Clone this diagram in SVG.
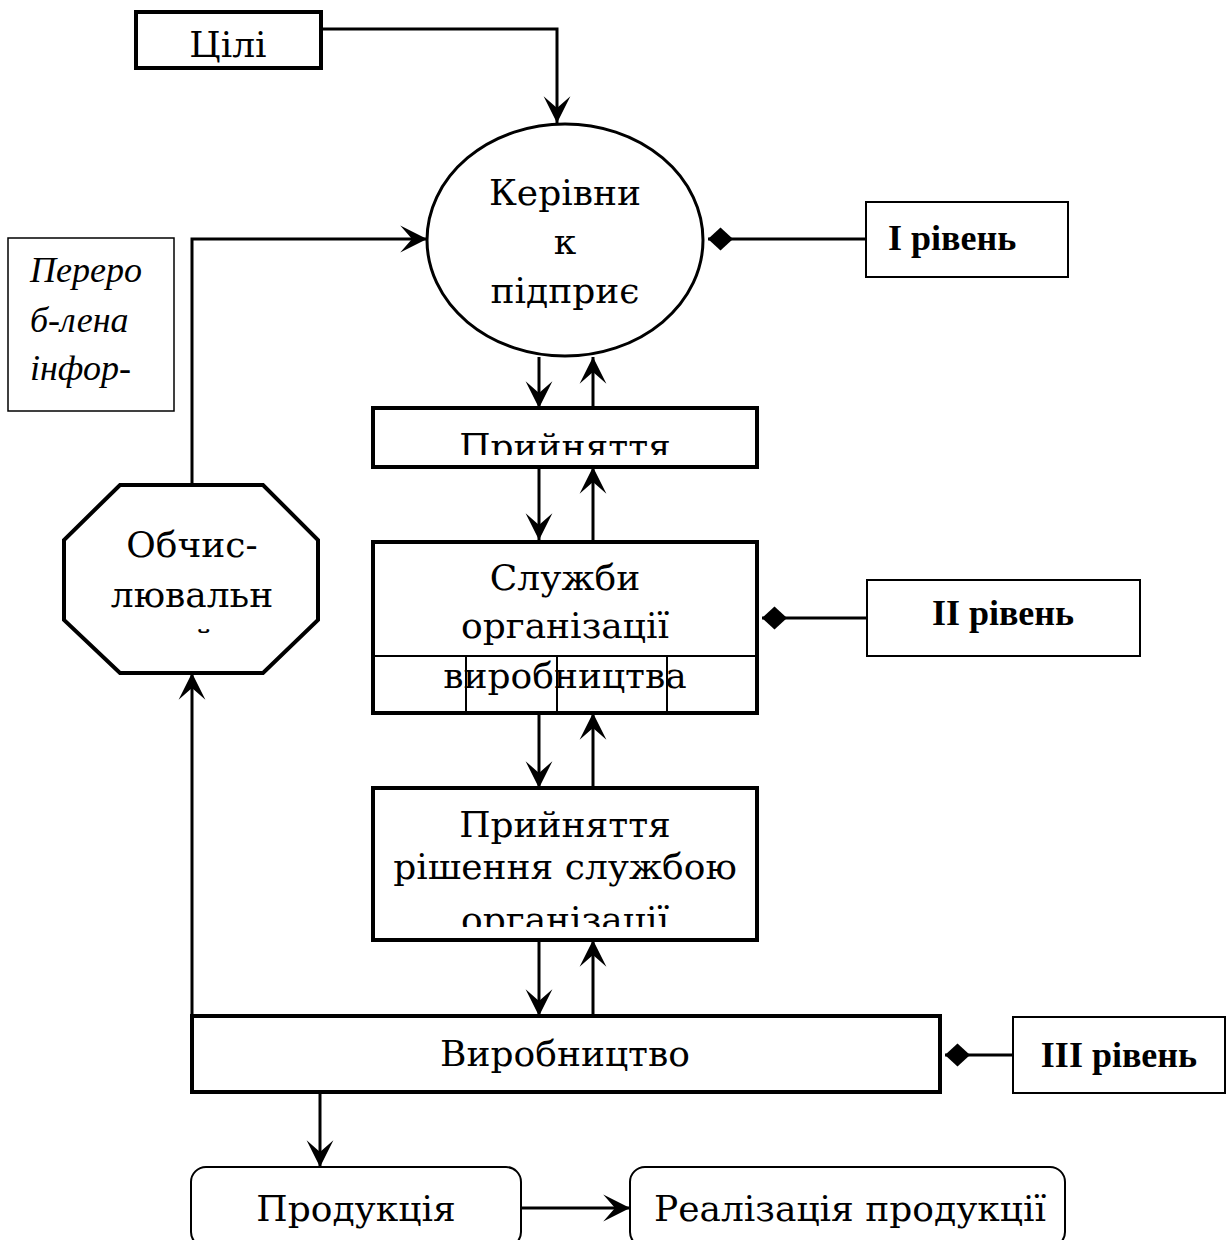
<svg xmlns="http://www.w3.org/2000/svg" width="1231" height="1240" viewBox="0 0 1231 1240">
<style>
.main{font-family:"DejaVu Serif","Liberation Serif",serif;font-size:36px;fill:#000}
.lvl{font-family:"Liberation Serif","Times New Roman",serif;font-size:36px;font-weight:bold;fill:#000}
.ital{font-family:"Liberation Serif","Times New Roman",serif;font-size:36px;font-style:italic;fill:#000}
.box{fill:#fff;stroke:#000;stroke-width:4}
.thin{fill:#fff;stroke:#000;stroke-width:2}
.conn{fill:none;stroke:#000;stroke-width:3}
</style>
<defs>
<marker id="arr" markerUnits="userSpaceOnUse" markerWidth="30" markerHeight="30" viewBox="-26 -14 28 28" refX="0" refY="0" orient="auto">
<path d="M0,0 L-25,-12.5 L-14,0 L-25,12.5 Z" fill="#000"/>
</marker>
<marker id="dia" markerUnits="userSpaceOnUse" markerWidth="30" markerHeight="30" viewBox="-28 -14 30 28" refX="0" refY="0" orient="auto">
<path d="M0,0 L-12.5,-11.5 L-25,0 L-12.5,11.5 Z" fill="#000"/>
</marker>
<clipPath id="c1"><rect x="375" y="410" width="380" height="45"/></clipPath>
<clipPath id="c2"><rect x="375" y="790" width="380" height="137"/></clipPath>
<clipPath id="c3"><rect x="66" y="487" width="250" height="148.5"/></clipPath>
</defs>

<g id="connectors">
<path class="conn" d="M321,29 H557 V123" marker-end="url(#arr)"/>
<path class="conn" d="M192,485 V239 H427" marker-end="url(#arr)"/>
<path class="conn" d="M192,1016 V673" marker-end="url(#arr)"/>
<path class="conn" d="M539,357 V408" marker-end="url(#arr)"/>
<path class="conn" d="M593,408 V357" marker-end="url(#arr)"/>
<path class="conn" d="M539,467 V540" marker-end="url(#arr)"/>
<path class="conn" d="M593,540 V467" marker-end="url(#arr)"/>
<path class="conn" d="M539,713 V788" marker-end="url(#arr)"/>
<path class="conn" d="M593,788 V713" marker-end="url(#arr)"/>
<path class="conn" d="M539,940 V1016" marker-end="url(#arr)"/>
<path class="conn" d="M593,1016 V940" marker-end="url(#arr)"/>
<path class="conn" d="M320,1092 V1167" marker-end="url(#arr)"/>
<path class="conn" d="M521,1208 H630" marker-end="url(#arr)"/>
<path class="conn" d="M866,239 H708" marker-end="url(#dia)"/>
<path class="conn" d="M867,618 H762" marker-end="url(#dia)"/>
<path class="conn" d="M1013,1055 H945" marker-end="url(#dia)"/>
</g>

<g id="goals">
<rect class="box" x="136" y="12" width="185" height="56"/>
<text class="main" x="228" y="57" text-anchor="middle">Цілі</text>
</g>

<g id="head">
<ellipse cx="565" cy="240" rx="138" ry="116" fill="#fff" stroke="#000" stroke-width="3"/>
<text class="main" x="565" y="205" text-anchor="middle">Керівни</text>
<text class="main" x="565" y="254" text-anchor="middle">к</text>
<text class="main" x="565" y="303" text-anchor="middle">підприє</text>
</g>

<g id="level1">
<rect class="thin" x="866" y="202" width="202" height="75"/>
<text class="lvl" x="888" y="250">I рівень</text>
</g>

<g id="info">
<rect x="8" y="238" width="166" height="173" fill="#fff" stroke="#000" stroke-width="1.5"/>
<text class="ital" x="30" y="282">Переро</text>
<text class="ital" x="30" y="332">б-лена</text>
<text class="ital" x="30" y="380">інфор-</text>
</g>

<g id="decision1">
<rect class="box" x="373" y="408" width="384" height="59"/>
<text class="main" x="565" y="459" text-anchor="middle" clip-path="url(#c1)">Прийняття</text>
</g>

<g id="services">
<rect class="box" x="373" y="542" width="384" height="171"/>
<path d="M375,656 H755 M466,656 V711 M557,656 V711 M667,656 V711" fill="none" stroke="#000" stroke-width="2"/>
<text class="main" x="565" y="590" text-anchor="middle">Служби</text>
<text class="main" x="565" y="638" text-anchor="middle">організації</text>
<text class="main" x="565" y="688" text-anchor="middle">виробництва</text>
</g>

<g id="level2">
<rect class="thin" x="867" y="580" width="273" height="76"/>
<text class="lvl" x="1003" y="625" text-anchor="middle">II рівень</text>
</g>

<g id="computer">
<polygon points="120,485 263,485 318,540 318,620 263,673 120,673 64,620 64,540" fill="#fff" stroke="#000" stroke-width="4"/>
<text class="main" x="192" y="557" text-anchor="middle">Обчис-</text>
<text class="main" x="192" y="607" text-anchor="middle">лювальн</text>
<text class="main" x="192" y="655" text-anchor="middle" clip-path="url(#c3)">ий</text>
</g>

<g id="decision2">
<rect class="box" x="373" y="788" width="384" height="152"/>
<g clip-path="url(#c2)">
<text class="main" x="565" y="837" text-anchor="middle">Прийняття</text>
<text class="main" x="565" y="879" text-anchor="middle">рішення службою</text>
<text class="main" x="565" y="932" text-anchor="middle">організації</text>
</g>
</g>

<g id="production">
<rect class="box" x="192" y="1016" width="748" height="76"/>
<text class="main" x="565" y="1066" text-anchor="middle">Виробництво</text>
</g>

<g id="level3">
<rect class="thin" x="1013" y="1017" width="212" height="76"/>
<text class="lvl" x="1119" y="1067" text-anchor="middle">III рівень</text>
</g>

<g id="product">
<rect x="191" y="1167" width="330" height="80" rx="15" fill="#fff" stroke="#000" stroke-width="2"/>
<text class="main" x="356" y="1221" text-anchor="middle">Продукція</text>
</g>

<g id="sales">
<rect x="630" y="1167" width="435" height="80" rx="15" fill="#fff" stroke="#000" stroke-width="2"/>
<text class="main" x="850" y="1221" text-anchor="middle">Реалізація продукції</text>
</g>
</svg>
